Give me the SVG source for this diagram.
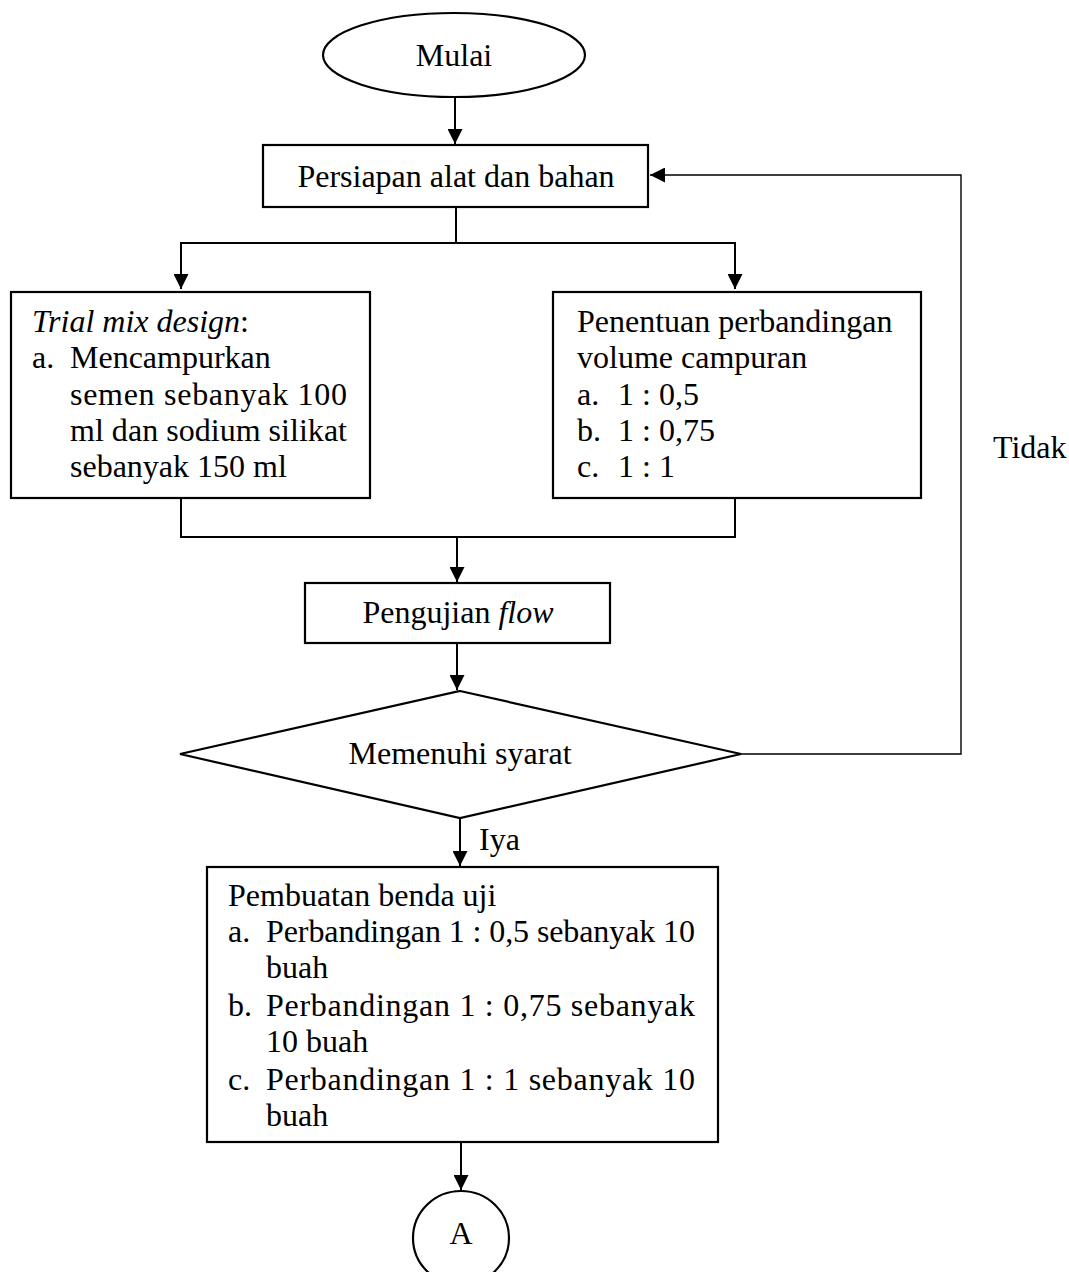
<svg xmlns="http://www.w3.org/2000/svg" width="1069" height="1272" viewBox="0 0 1069 1272">
<style>
.s{fill:#fff;stroke:#000;stroke-width:2.2}
.c{fill:none;stroke:#000;stroke-width:2}
.t{fill:none;stroke:#000;stroke-width:1.4}
text{font-family:"Liberation Serif","Times New Roman",serif;font-size:32px;fill:#000}
.m{text-anchor:middle}
</style>
<defs>
<marker id="ah" viewBox="0 0 15 15" refX="15" refY="7.5" markerWidth="15" markerHeight="15" markerUnits="userSpaceOnUse" orient="auto">
<path d="M0,0 L15,7.5 L0,15 Z" fill="#000"/>
</marker>
</defs>
<rect width="1069" height="1272" fill="#fff"/>
<g id="connectors">
<line class="c" x1="455" y1="97" x2="455" y2="144" marker-end="url(#ah)"/>
<polyline class="c" points="456,207 456,243 181,243 181,289" marker-end="url(#ah)"/>
<polyline class="c" points="456,243 735,243 735,289" marker-end="url(#ah)"/>
<polyline class="c" points="181,498 181,537 735,537 735,498"/>
<line class="c" x1="457" y1="537" x2="457" y2="582" marker-end="url(#ah)"/>
<line class="c" x1="457" y1="643" x2="457" y2="690" marker-end="url(#ah)"/>
<polyline class="t" points="741,754 961,754 961,175 650,175" marker-end="url(#ah)"/>
<line class="c" x1="460" y1="818" x2="460" y2="866" marker-end="url(#ah)"/>
<line class="c" x1="461" y1="1142" x2="461" y2="1190" marker-end="url(#ah)"/>
<text x="993" y="458">Tidak</text>
<text x="479" y="850">Iya</text>
</g>
<g id="mulai">
<ellipse class="s" cx="454" cy="55" rx="131" ry="42"/>
<text class="m" x="454" y="66">Mulai</text>
</g>
<g id="persiapan">
<rect class="s" x="263" y="145" width="385" height="62"/>
<text class="m" x="456" y="187">Persiapan alat dan bahan</text>
</g>
<g id="trial">
<rect class="s" x="11" y="292" width="359" height="206"/>
<text x="32" y="332"><tspan font-style="italic">Trial mix design</tspan>:</text>
<text x="32" y="368">a.</text>
<text x="70" y="368">Mencampurkan</text>
<text x="70" y="405" textLength="277" lengthAdjust="spacing">semen sebanyak 100</text>
<text x="70" y="441" textLength="277" lengthAdjust="spacing">ml dan sodium silikat</text>
<text x="70" y="477">sebanyak 150 ml</text>
</g>
<g id="penentuan">
<rect class="s" x="553" y="292" width="368" height="206"/>
<text x="577" y="332">Penentuan perbandingan</text>
<text x="577" y="368">volume campuran</text>
<text x="577" y="405">a.</text><text x="618" y="405">1 : 0,5</text>
<text x="577" y="441">b.</text><text x="618" y="441">1 : 0,75</text>
<text x="577" y="477">c.</text><text x="618" y="477">1 : 1</text>
</g>
<g id="pengujian">
<rect class="s" x="305" y="583" width="305" height="60"/>
<text class="m" x="458" y="623">Pengujian <tspan font-style="italic">flow</tspan></text>
</g>
<g id="syarat">
<polygon class="s" points="460,691 741,754 460,818 180,754"/>
<text class="m" x="460" y="764">Memenuhi syarat</text>
</g>
<g id="pembuatan">
<rect class="s" x="207" y="867" width="511" height="275"/>
<text x="228" y="906">Pembuatan benda uji</text>
<text x="228" y="942">a.</text>
<text x="266" y="942" textLength="429" lengthAdjust="spacing">Perbandingan 1 : 0,5 sebanyak 10</text>
<text x="266" y="978">buah</text>
<text x="228" y="1016">b.</text>
<text x="266" y="1016" textLength="429" lengthAdjust="spacing">Perbandingan 1 : 0,75 sebanyak</text>
<text x="266" y="1052">10 buah</text>
<text x="228" y="1090">c.</text>
<text x="266" y="1090" textLength="429" lengthAdjust="spacing">Perbandingan 1 : 1  sebanyak 10</text>
<text x="266" y="1126">buah</text>
</g>
<g id="a">
<ellipse class="s" cx="461" cy="1238" rx="48" ry="47"/>
<text class="m" x="461" y="1244">A</text>
</g>
</svg>
